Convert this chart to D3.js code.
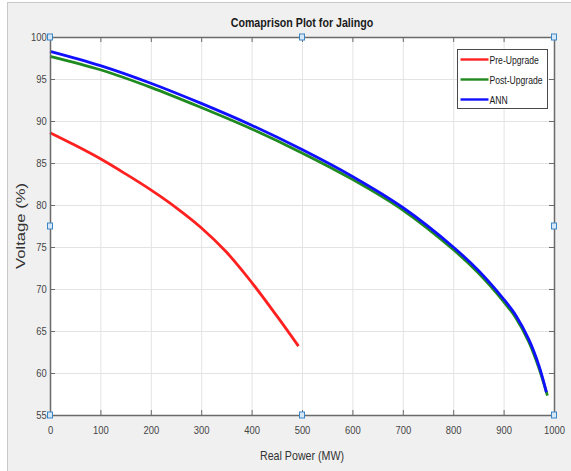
<!DOCTYPE html>
<html>
<head>
<meta charset="utf-8">
<script src="https://cdn.jsdelivr.net/npm/d3@7"></script>
<style>
  body { margin: 0; background: #fff; }
  svg { display: block; }
</style>
</head>
<body>
<svg id="chart"></svg>
<script>
// values
var preUpgradeP = [0, 50, 100, 150, 200, 250, 300, 350, 400, 450, 493]
var preUpgradeV = [88.6, 87.1, 85.5, 83.7, 81.8, 79.7, 77.3, 74.4, 70.8, 66.8, 63.2]

var postUpgradeP = [0, 100, 200, 300, 400, 500, 600, 700, 800, 850, 900, 925, 950, 970, 987]
var postUpgradeV = [97.7, 96.1, 94.0, 91.6, 89.05, 86.2, 83.05, 79.4, 74.7, 71.9, 68.5, 66.5, 63.7, 60.6, 57.3]

var annP = [0, 100, 200, 300, 400, 500, 600, 700, 800, 850, 900, 925, 950, 970, 985]
var annV = [98.3, 96.6, 94.5, 92.1, 89.5, 86.6, 83.4, 79.7, 75.0, 72.2, 68.8, 66.8, 64.0, 60.9, 57.7]

var xTicks = [0, 100, 200, 300, 400, 500, 600, 700, 800, 900, 1000]
var yTicks = [55, 60, 65, 70, 75, 80, 85, 90, 95, 100]

var seriesNames = ["Pre-Upgrade", "Post-Upgrade", "ANN"]
var seriesColors = ["#ff2020", "#1f8a1f", "#1010ff"]

var dims = {
    width: 571,
    height: 471,
    margin: { top: 37, bottom: 56, left: 50, right: 17 }
}
var plotW = dims.width - dims.margin.left - dims.margin.right
var plotH = dims.height - dims.margin.top - dims.margin.bottom

// the reference is squeezed sideways, so horizontal text is narrowed
var squeeze = 0.82
var font = '"Liberation Sans", Arial, sans-serif'

var svg = d3.select("#chart")
            .attr("width", dims.width)
            .attr("height", dims.height)

// figure background
svg.append("rect")
   .attr("x", 7.5).attr("y", 2.5)
   .attr("width", dims.width).attr("height", dims.height)
   .attr("fill", "#f0f0f0")
   .attr("stroke", "#c9c9c9")

var xScale = d3.scaleLinear()
               .domain([0, 1000])
               .range([dims.margin.left, dims.margin.left + plotW])

var yScale = d3.scaleLinear()
               .domain([55, 100])
               .range([dims.margin.top + plotH, dims.margin.top])

// axes area
svg.append("rect")
   .attr("x", xScale(0)).attr("y", yScale(100))
   .attr("width", plotW).attr("height", plotH)
   .attr("fill", "#ffffff")

// grid
var xGrid = svg.append("g")
               .attr("transform", `translate(0,${yScale(55)})`)
               .call(d3.axisBottom(xScale).tickValues(xTicks).tickSize(-plotH).tickFormat(""))
var yGrid = svg.append("g")
               .attr("transform", `translate(${xScale(0)},0)`)
               .call(d3.axisLeft(yScale).tickValues(yTicks).tickSize(-plotW).tickFormat(""))
;[xGrid, yGrid].forEach(function(g) {
    g.select(".domain").remove()
    g.selectAll("line").attr("stroke", "#e3e3e3").attr("stroke-width", 1)
})

// series
var lineGen = d3.line()
                .x(d => xScale(d[0]))
                .y(d => yScale(d[1]))
                .curve(d3.curveCatmullRom.alpha(0.5))

var allSeries = [
    d3.zip(preUpgradeP, preUpgradeV),
    d3.zip(postUpgradeP, postUpgradeV),
    d3.zip(annP, annV)
]

allSeries.forEach(function(s, i) {
    svg.append("path")
       .datum(s)
       .attr("d", lineGen)
       .attr("fill", "none")
       .attr("stroke", seriesColors[i])
       .attr("stroke-width", 2.8)
       .attr("stroke-linejoin", "round")
})

// axes (box on, ticks inward)
var axisColor = "#6a6a6a"
var labelColor = "#454545"

var xAxis = svg.append("g")
               .attr("transform", `translate(0,${yScale(55)})`)
               .call(d3.axisBottom(xScale).tickValues(xTicks).tickFormat(d3.format("d"))
                       .tickSizeInner(-5).tickSizeOuter(0).tickPadding(11))
var yAxis = svg.append("g")
               .attr("transform", `translate(${xScale(0)},0)`)
               .call(d3.axisLeft(yScale).tickValues(yTicks).tickSizeInner(-5).tickSizeOuter(0).tickPadding(4))
var xTop = svg.append("g")
              .attr("transform", `translate(0,${yScale(100)})`)
              .call(d3.axisTop(xScale).tickValues(xTicks).tickSizeInner(-5).tickSizeOuter(0).tickFormat(""))
var yRight = svg.append("g")
                .attr("transform", `translate(${xScale(1000)},0)`)
                .call(d3.axisRight(yScale).tickValues(yTicks).tickSizeInner(-5).tickSizeOuter(0).tickFormat(""))

;[xAxis, yAxis, xTop, yRight].forEach(function(g) {
    g.select(".domain").attr("stroke", axisColor).attr("stroke-width", 1.5)
    g.selectAll(".tick line").attr("stroke", axisColor)
    g.selectAll("text")
     .attr("fill", labelColor)
     .attr("transform", `scale(${squeeze},1)`)
     .style("font-family", font)
     .style("font-size", "11.5px")
})

// selection handles
var handleX = [0, 500, 1000]
var handleY = [100, 77.5, 55]
var handles = []
handleX.forEach(function(hx) {
    handleY.forEach(function(hy) {
        if (!(hx == 500 && hy == 77.5)) handles.push([hx, hy])
    })
})
svg.append("g")
   .selectAll("rect")
   .data(handles)
   .enter()
   .append("rect")
   .attr("x", d => xScale(d[0]) - 2.5)
   .attr("y", d => yScale(d[1]) - 3)
   .attr("width", 5)
   .attr("height", 6)
   .attr("fill", "#d6e8f8")
   .attr("stroke", "#3d86c6")
   .attr("stroke-width", 1)

// title and labels
svg.append("text")
   .attr("transform", `translate(${xScale(500)},27) scale(${squeeze},1)`)
   .attr("text-anchor", "middle")
   .style("font-family", font)
   .style("font-weight", "bold")
   .style("font-size", "13px")
   .attr("fill", "#1a1a1a")
   .text("Comaprison Plot for Jalingo")

svg.append("text")
   .attr("transform", `translate(${xScale(500)},460) scale(${squeeze},1)`)
   .attr("text-anchor", "middle")
   .style("font-family", font)
   .style("font-size", "13px")
   .attr("fill", "#333")
   .text("Real Power (MW)")

svg.append("text")
   .attr("transform", `translate(25,${yScale(77.5)}) rotate(-90) scale(1.28,1)`)
   .attr("text-anchor", "middle")
   .style("font-family", font)
   .style("font-size", "13px")
   .attr("fill", "#333")
   .text("Voltage (%)")

// legend
var legend = svg.append("g")
                .attr("transform", "translate(457.5,49.5)")
legend.append("rect")
      .attr("width", 90)
      .attr("height", 59)
      .attr("fill", "#fff")
      .attr("stroke", "#4a4a4a")
      .attr("stroke-width", 1)

var legendY = d3.scalePoint()
                .domain(seriesNames)
                .range([10, 50])

seriesNames.forEach(function(name, i) {
    legend.append("line")
          .attr("x1", 3).attr("x2", 31)
          .attr("y1", legendY(name)).attr("y2", legendY(name))
          .attr("stroke", seriesColors[i])
          .attr("stroke-width", 2.4)
    legend.append("text")
          .attr("transform", `translate(32,${legendY(name) + 4}) scale(${squeeze},1)`)
          .style("font-family", font)
          .style("font-size", "10.5px")
          .attr("fill", "#1a1a1a")
          .text(name)
})
</script>
</body>
</html>
